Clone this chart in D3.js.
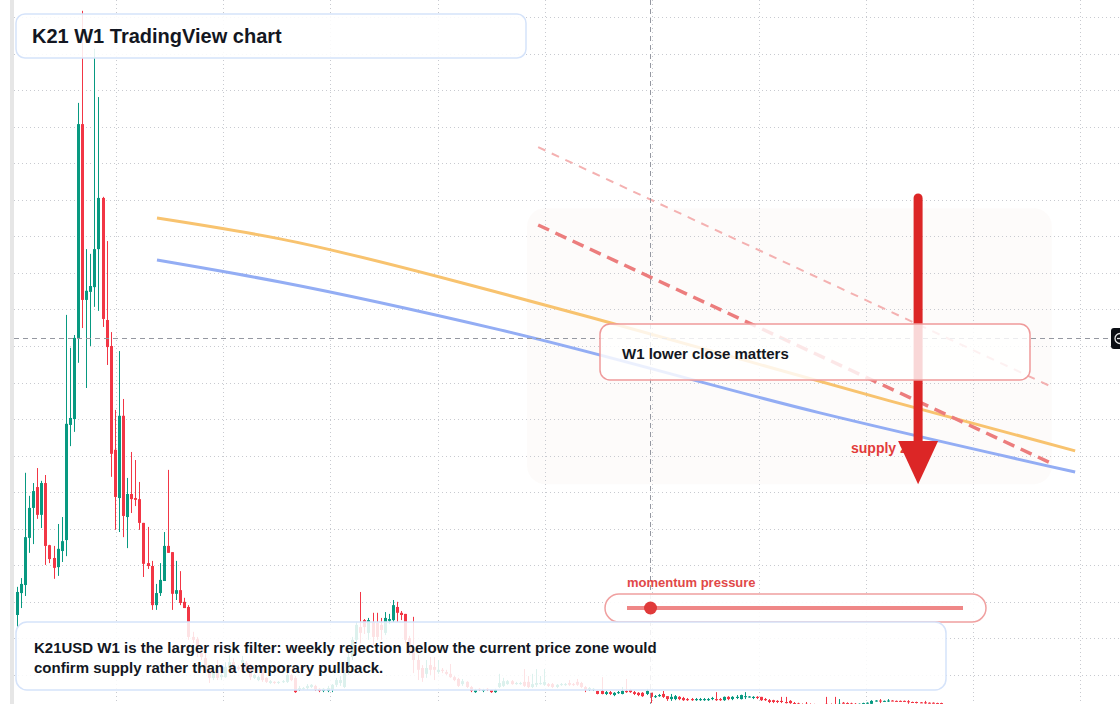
<!DOCTYPE html>
<html>
<head>
<meta charset="utf-8">
<script src="https://cdn.jsdelivr.net/npm/d3@7"></script>
<style>
  html, body { margin: 0; padding: 0; background: #fff; }
  svg { display: block; font-family: "Liberation Sans", Arial, sans-serif; }
</style>
</head>
<body>
<script>
// K21USD weekly candles (USD), oldest first
const opens = [
  .0264,.0324,.0346,.0475,.0557,.0614,.0538,.0625,.0455,.0420,
  .0395,.0439,.0469,.0784,.0800,.1022,.1607,.1126,.1148,.1161,
  .1265,.1405,.1071,.1000,.0716,.0584,.0809,.0532,.0595,.0584,
  .0581,.0516,.0406,.0398,.0291,.0324,.0357,.0453,.0436,.0322,
  .0332,.0300,.0286,.0204,.0198,.0160,.0146,.0114,.0092,.0114,
  .0094,.0094,.0119,.0135,.0122,.0133,.0133,.0122,.0092,.0086,
  .0114,.0092,.0078,.0081,.0078,.0081,.0081,.0100,.0092,.0059,
  .0062,.0064,.0067,.0070,.0062,.0056,.0056,.0059,.0073,.0078,
  .0067,.0105,.0149,.0196,.0231,.0250,.0215,.0245,.0242,.0237,
  .0215,.0248,.0250,.0286,.0270,.0267,.0201,.0168,.0141,.0119,
  .0103,.0127,.0122,.0108,.0114,.0108,.0103,.0094,.0089,.0075,
  .0081,.0067,.0053,.0062,.0056,.0062,.0059,.0053,.0067,.0070,
  .0075,.0083,.0075,.0075,.0081,.0081,.0067,.0073,.0075,.0073,
  .0075,.0075,.0067,.0073,.0073,.0078,.0075,.0081,.0078,.0067,
  .0059,.0059,.0056,.0056,.0048,.0053,.0045,.0051,.0048,.0056,
  .0059,.0053,.0051,.0051,.0048,.0051,.0040,.0042,.0048,.0042,
  .0034,.0034,.0040,.0037,.0034,.0034,.0031,.0031,.0031,.0031,
  .0034,.0034,.0034,.0031,.0040,.0034,.0037,.0034,.0040,.0040,
  .0037,.0040,.0040,.0034,.0031,.0031,.0029,.0029,.0026,.0029,
  .0023,.0022,.0020,.0021,.0020,.0019,.0018,.0018,.0021,.0020,
  .0020,.0019,.0024,.0023,.0022,.0021,.0020,.0021,.0022,.0021,
  .0028,.0030,.0027,.0028,.0030,.0029,.0029,.0029,.0028,.0026,
  .0026,.0025,.0025,.0024,.0024,.0023,.0023
];
const highs = [
  .0341,.0365,.0653,.0590,.0625,.0666,.0631,.0647,.0456,.0453,
  .0513,.0532,.1085,.0995,.1030,.1665,.1917,.1265,.1252,.1813,
  .1681,.1408,.1287,.1038,.0825,.0986,.0855,.0639,.0710,.0688,
  .0628,.0516,.0505,.0412,.0349,.0406,.0491,.0661,.0436,.0412,
  .0384,.0311,.0291,.0218,.0204,.0168,.0177,.0122,.0114,.0141,
  .0105,.0135,.0155,.0146,.0127,.0152,.0138,.0130,.0103,.0097,
  .0127,.0094,.0086,.0083,.0083,.0086,.0108,.0103,.0097,.0070,
  .0067,.0075,.0075,.0073,.0064,.0064,.0070,.0075,.0092,.0097,
  .0114,.0174,.0204,.0245,.0327,.0253,.0256,.0270,.0270,.0256,
  .0272,.0267,.0305,.0300,.0275,.0267,.0207,.0259,.0155,.0127,
  .0141,.0149,.0149,.0141,.0119,.0114,.0130,.0097,.0092,.0089,
  .0083,.0070,.0062,.0064,.0062,.0064,.0059,.0062,.0103,.0092,
  .0086,.0086,.0081,.0081,.0116,.0097,.0103,.0116,.0097,.0116,
  .0078,.0078,.0075,.0078,.0078,.0086,.0078,.0089,.0081,.0070,
  .0067,.0064,.0057,.0094,.0056,.0056,.0053,.0056,.0067,.0089,
  .0062,.0056,.0053,.0053,.0062,.0051,.0045,.0048,.0056,.0042,
  .0048,.0045,.0042,.0040,.0037,.0037,.0037,.0037,.0037,.0037,
  .0040,.0053,.0037,.0041,.0042,.0042,.0045,.0046,.0053,.0042,
  .0042,.0042,.0040,.0037,.0034,.0032,.0031,.0040,.0040,.0031,
  .0026,.0024,.0022,.0026,.0022,.0021,.0020,.0020,.0040,.0022,
  .0040,.0034,.0026,.0025,.0024,.0023,.0022,.0024,.0025,.0031,
  .0031,.0034,.0030,.0034,.0031,.0030,.0030,.0030,.0031,.0027,
  .0027,.0026,.0029,.0025,.0025,.0024,.0024
];
const lows = [
  .0228,.0283,.0316,.0434,.0458,.0527,.0502,.0401,.0406,.0363,
  .0371,.0409,.0425,.0726,.0765,.0954,.1049,.0885,.1000,.1107,
  .1096,.1052,.0948,.0642,.0497,.0491,.0477,.0447,.0543,.0562,
  .0497,.0368,.0390,.0278,.0278,.0316,.0357,.0434,.0278,.0305,
  .0291,.0283,.0196,.0187,.0149,.0141,.0105,.0078,.0086,.0086,
  .0086,.0092,.0114,.0108,.0111,.0125,.0111,.0086,.0089,.0083,
  .0081,.0078,.0075,.0075,.0075,.0078,.0078,.0083,.0051,.0056,
  .0059,.0059,.0064,.0056,.0053,.0053,.0053,.0053,.0067,.0070,
  .0064,.0100,.0141,.0190,.0187,.0212,.0196,.0182,.0196,.0196,
  .0209,.0239,.0245,.0245,.0250,.0187,.0155,.0105,.0086,.0081,
  .0092,.0100,.0086,.0103,.0105,.0100,.0092,.0083,.0067,.0070,
  .0064,.0053,.0051,.0056,.0053,.0056,.0051,.0051,.0064,.0067,
  .0073,.0073,.0073,.0073,.0067,.0064,.0064,.0067,.0073,.0070,
  .0067,.0064,.0064,.0070,.0070,.0070,.0070,.0070,.0064,.0053,
  .0056,.0056,.0047,.0047,.0045,.0045,.0042,.0048,.0047,.0051,
  .0051,.0045,.0042,.0040,.0045,.0023,.0037,.0040,.0037,.0029,
  .0029,.0031,.0031,.0029,.0029,.0029,.0029,.0029,.0029,.0029,
  .0031,.0029,.0029,.0029,.0031,.0031,.0034,.0033,.0034,.0038,
  .0034,.0034,.0029,.0029,.0023,.0023,.0023,.0023,.0022,.0021,
  .0020,.0018,.0017,.0019,.0019,.0017,.0016,.0016,.0019,.0018,
  .0018,.0018,.0022,.0021,.0020,.0019,.0019,.0020,.0021,.0020,
  .0027,.0023,.0026,.0026,.0028,.0027,.0027,.0027,.0021,.0024,
  .0022,.0023,.0021,.0022,.0022,.0021,.0021
];
const closes = [
  .0327,.0349,.0477,.0557,.0603,.0538,.0625,.0453,.0417,.0393,
  .0445,.0466,.0787,.0803,.1022,.1607,.1126,.1151,.1164,.1265,
  .1405,.1074,.0997,.0705,.0587,.0809,.0535,.0595,.0581,.0579,
  .0516,.0404,.0398,.0291,.0324,.0360,.0453,.0434,.0322,.0332,
  .0297,.0283,.0204,.0196,.0177,.0149,.0114,.0092,.0108,.0092,
  .0100,.0122,.0135,.0114,.0116,.0141,.0114,.0094,.0100,.0094,
  .0086,.0081,.0083,.0078,.0081,.0083,.0100,.0086,.0053,.0064,
  .0064,.0070,.0073,.0059,.0056,.0062,.0064,.0073,.0086,.0086,
  .0105,.0149,.0196,.0237,.0215,.0231,.0250,.0204,.0204,.0223,
  .0256,.0253,.0291,.0270,.0264,.0196,.0168,.0141,.0114,.0092,
  .0119,.0114,.0114,.0114,.0111,.0103,.0094,.0086,.0070,.0083,
  .0067,.0056,.0059,.0059,.0059,.0059,.0053,.0059,.0078,.0083,
  .0083,.0075,.0078,.0078,.0070,.0067,.0075,.0078,.0078,.0081,
  .0070,.0067,.0073,.0075,.0075,.0073,.0073,.0073,.0067,.0059,
  .0064,.0062,.0048,.0048,.0053,.0048,.0051,.0053,.0056,.0053,
  .0053,.0048,.0045,.0042,.0056,.0040,.0042,.0045,.0040,.0034,
  .0040,.0042,.0034,.0031,.0031,.0031,.0034,.0034,.0034,.0034,
  .0037,.0031,.0031,.0040,.0034,.0040,.0040,.0045,.0042,.0041,
  .0040,.0037,.0031,.0031,.0026,.0026,.0026,.0026,.0023,.0023,
  .0022,.0020,.0019,.0020,.0019,.0018,.0017,.0018,.0020,.0019,
  .0019,.0021,.0023,.0022,.0021,.0020,.0021,.0023,.0024,.0029,
  .0030,.0028,.0029,.0030,.0029,.0028,.0028,.0028,.0026,.0025,
  .0024,.0024,.0023,.0023,.0023,.0022,.0022
];

// drawings, as [week index, price]
const orangeLine = [[34.3, .1350], [64.4, .1293], [118.2, .1145], [145.3, .1063], [212.8, .0852], [258.8, .0713]];
const blueLine = [[34.3, .1235], [64.4, .1175], [118.2, .1044], [196.4, .0817], [258.8, .0655]];
const upperDash = [[127.5, .1544], [253.1, .0888]];
const lowerDash = [[127.5, .1331], [253.4, .0677]];
const zoneWeeks = [124.8, 253.1];
const zonePrices = [.1377, .0622];
const arrowWeek = 220.4;
const arrowPrices = [.1405, .0740, .0622]; // shaft top, head base, tip
const crossWeek = 154.8;
const crossPrice = .1022;
const timeGridWeeks = [24.3, 50.5, 76.7, 102.9, 129.1, 155.3, 181.5, 207.7, 233.9, 260.1];
const momentumValue = 0.07;

const titleText = 'K21 W1 TradingView chart';
const noteLines = [
  'K21USD W1 is the larger risk filter: weekly rejection below the current price zone would',
  'confirm supply rather than a temporary pullback.'
];

const width = 1120;
const height = 704;
const upColor = '#089981';
const downColor = '#f23645';

const svg = d3.select('body').append('svg')
  .attr('width', width)
  .attr('height', height);

svg.append('rect').attr('width', width).attr('height', height).attr('fill', '#fff');
svg.append('rect').attr('x', 10).attr('width', 4).attr('height', height).attr('fill', '#e6e6e6');

const xScale = d3.scaleLinear().domain([0, closes.length - 1]).range([16.7, 941]);
const yScale = d3.scaleLinear().domain([0, 0.19]).range([711.5, 17]);
const px = v => Math.round(v) + 0.5;

// faint supply zone
svg.append('rect')
  .attr('x', xScale(zoneWeeks[0]))
  .attr('y', yScale(zonePrices[0]))
  .attr('width', xScale(zoneWeeks[1]) - xScale(zoneWeeks[0]))
  .attr('height', yScale(zonePrices[1]) - yScale(zonePrices[0]))
  .attr('rx', 18)
  .attr('fill', '#f3e2d6')
  .attr('opacity', 0.13);

// grid
const grid = svg.append('g')
  .attr('stroke', '#c8cad0')
  .attr('stroke-width', 1)
  .attr('stroke-dasharray', '1 3');

grid.selectAll('.hgrid').data(yScale.ticks(19).filter(t => t > 0))
  .enter().append('line')
  .attr('x1', 14).attr('x2', width)
  .attr('y1', d => px(yScale(d))).attr('y2', d => px(yScale(d)));

grid.selectAll('.vgrid').data(timeGridWeeks)
  .enter().append('line')
  .attr('x1', d => px(xScale(d))).attr('x2', d => px(xScale(d)))
  .attr('y1', 0).attr('y2', height);

// candles
const candles = closes.map((c, i) => ({ i, o: opens[i], h: highs[i], l: lows[i], c }));
const candleG = svg.append('g');

candleG.selectAll('.wick').data(candles)
  .enter().append('line')
  .attr('x1', d => px(xScale(d.i))).attr('x2', d => px(xScale(d.i)))
  .attr('y1', d => yScale(d.h)).attr('y2', d => yScale(d.l))
  .attr('stroke', d => d.c >= d.o ? upColor : downColor)
  .attr('stroke-width', 1);

candleG.selectAll('.body').data(candles)
  .enter().append('rect')
  .attr('x', d => Math.round(xScale(d.i)) - 1)
  .attr('width', 3)
  .attr('y', d => yScale(Math.max(d.o, d.c)))
  .attr('height', d => Math.max(1, Math.abs(yScale(d.o) - yScale(d.c))))
  .attr('fill', d => d.c >= d.o ? upColor : downColor);

// moving lines
const curve = d3.line()
  .x(d => xScale(d[0]))
  .y(d => yScale(d[1]))
  .curve(d3.curveMonotoneX);

svg.append('path').attr('d', curve(orangeLine))
  .attr('fill', 'none').attr('stroke', '#f8c36f').attr('stroke-width', 3);
svg.append('path').attr('d', curve(blueLine))
  .attr('fill', 'none').attr('stroke', '#93adf4').attr('stroke-width', 3);

const straight = d3.line().x(d => xScale(d[0])).y(d => yScale(d[1]));

svg.append('path').attr('d', straight(upperDash))
  .attr('fill', 'none').attr('stroke', '#f4b1b1').attr('stroke-width', 2)
  .attr('stroke-dasharray', '8 7');
svg.append('path').attr('d', straight(lowerDash))
  .attr('fill', 'none').attr('stroke', '#ec7d7d').attr('stroke-width', 3.5)
  .attr('stroke-dasharray', '12 7');

// crosshair
const cross = svg.append('g')
  .attr('stroke', '#9598a1')
  .attr('stroke-width', 1)
  .attr('stroke-dasharray', '5 4');
cross.append('line')
  .attr('x1', 14).attr('x2', 1111)
  .attr('y1', px(yScale(crossPrice))).attr('y2', px(yScale(crossPrice)));
cross.append('line')
  .attr('x1', px(xScale(crossWeek))).attr('x2', px(xScale(crossWeek)))
  .attr('y1', 0).attr('y2', height);

// supply arrow
svg.append('text')
  .attr('x', 851).attr('y', 453)
  .attr('font-size', 14).attr('font-weight', 'bold')
  .attr('fill', '#e23b3b')
  .text('supply zone');

const ax = xScale(arrowWeek);
svg.append('line')
  .attr('x1', ax).attr('x2', ax)
  .attr('y1', yScale(arrowPrices[0])).attr('y2', yScale(arrowPrices[1]) + 2)
  .attr('stroke', '#dc2626').attr('stroke-width', 9).attr('stroke-linecap', 'round');
svg.append('path')
  .attr('d', `M${ax - 20},${yScale(arrowPrices[1])} L${ax + 20},${yScale(arrowPrices[1])} L${ax},${yScale(arrowPrices[2])} Z`)
  .attr('fill', '#dc2626');

// callout box
svg.append('rect')
  .attr('x', 600).attr('y', 324).attr('width', 430).attr('height', 56).attr('rx', 10)
  .attr('fill', '#fff').attr('fill-opacity', 0.82)
  .attr('stroke', '#ef9a9a').attr('stroke-width', 1.5);
svg.append('text')
  .attr('x', 622).attr('y', 359)
  .attr('font-size', 15).attr('font-weight', 'bold').attr('fill', '#131722')
  .text('W1 lower close matters');

// momentum slider
svg.append('text')
  .attr('x', 627).attr('y', 587)
  .attr('font-size', 13).attr('font-weight', 'bold').attr('fill', '#e14848')
  .text('momentum pressure');
svg.append('rect')
  .attr('x', 605).attr('y', 594).attr('width', 381).attr('height', 28).attr('rx', 14)
  .attr('fill', '#fff').attr('fill-opacity', 0.9)
  .attr('stroke', '#f0a0a0').attr('stroke-width', 1.5);
const mScale = d3.scaleLinear().domain([0, 1]).range([627, 963]);
svg.append('line')
  .attr('x1', mScale(0)).attr('x2', mScale(1))
  .attr('y1', 608).attr('y2', 608)
  .attr('stroke', '#ef8787').attr('stroke-width', 4);
svg.append('circle')
  .attr('cx', mScale(momentumValue)).attr('cy', 608).attr('r', 6.5)
  .attr('fill', '#e03a3a');

// title box
svg.append('rect')
  .attr('x', 16).attr('y', 14).attr('width', 510).attr('height', 44).attr('rx', 9)
  .attr('fill', '#fff').attr('fill-opacity', 0.88)
  .attr('stroke', '#d5e3fa').attr('stroke-width', 1.5);
svg.append('text')
  .attr('x', 32).attr('y', 43)
  .attr('font-size', 20).attr('font-weight', 'bold').attr('fill', '#131722')
  .text(titleText);

// note box
svg.append('rect')
  .attr('x', 16).attr('y', 622).attr('width', 930).attr('height', 68).attr('rx', 11)
  .attr('fill', '#fff').attr('fill-opacity', 0.86)
  .attr('stroke', '#d5e3fa').attr('stroke-width', 1.5);
svg.append('g').selectAll('text').data(noteLines)
  .enter().append('text')
  .attr('x', 34).attr('y', (d, i) => 653 + i * 20)
  .attr('font-size', 15).attr('font-weight', 'bold').attr('fill', '#131722')
  .text(d => d);

// crosshair price tag, cut by the right edge
const cy = px(yScale(crossPrice));
svg.append('rect')
  .attr('x', 1111).attr('y', cy - 10.5).attr('width', 16).attr('height', 21).attr('rx', 3)
  .attr('fill', '#0b0e14');
svg.append('circle')
  .attr('cx', 1120).attr('cy', cy).attr('r', 5)
  .attr('fill', 'none').attr('stroke', '#e6e6e6').attr('stroke-width', 1.3);
svg.append('line')
  .attr('x1', 1117).attr('x2', 1121).attr('y1', cy).attr('y2', cy)
  .attr('stroke', '#e6e6e6').attr('stroke-width', 1.3);
</script>
</body>
</html>
